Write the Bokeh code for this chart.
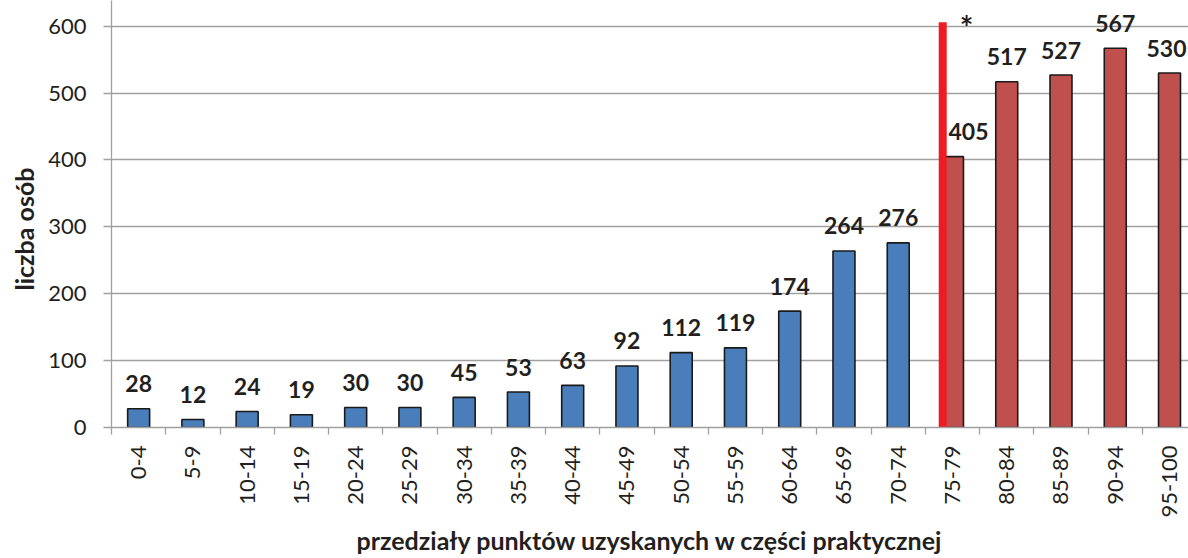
import math
from bokeh.plotting import figure
from bokeh.models import FixedTicker, Range1d, ColumnDataSource, Title
from bokeh.core.properties import value
from bokeh.embed import file_html
from bokeh.resources import INLINE

categories = ["0-4", "5-9", "10-14", "15-19", "20-24", "25-29", "30-34", "35-39",
              "40-44", "45-49", "50-54", "55-59", "60-64", "65-69", "70-74",
              "75-79", "80-84", "85-89", "90-94", "95-100"]
counts = [28, 12, 24, 19, 30, 30, 45, 53, 63, 92, 112, 119, 174, 264, 276,
          405, 517, 527, 567, 530]
threshold_category = "75-79"
y_ticks = [0, 100, 200, 300, 400, 500, 600]

FONT = "Lato"
TEXT = "#231f20"
GRAY = "#a0a0a0"
BLUE = "#4a7ebb"
RED = "#c0504d"

thr = categories.index(threshold_category)
n = len(categories)
xs = list(range(n))
colors = [BLUE if i < thr else RED for i in xs]
dx = [16 if i == thr else (-3 if i == n - 1 else 0) for i in xs]

src = ColumnDataSource(dict(x=xs, count=counts, color=colors,
                            label=[str(c) for c in counts], dx=dx))

p = figure(width=1188, height=558, x_range=Range1d(-0.5, 19.35),
           y_range=Range1d(0, 638.5), output_backend="svg", toolbar_location=None,
           min_border_left=111, min_border_right=0, min_border_top=0,
           min_border_bottom=131)
p.outline_line_color = None
p.background_fill_color = "white"
p.border_fill_color = "white"

p.vbar(x="x", top="count", width=0.405, fill_color="color",
       line_color="#1a1a1a", line_width=1.6, source=src)

p.text(x="x", y="count", text="label", x_offset="dx", y_offset=-25,
       text_align="center", text_baseline="alphabetic",
       text_font=value(FONT), text_font_style="bold", text_font_size="23px",
       text_color=TEXT, source=src)

# threshold marker between 70-74 and 75-79
mx = thr - 0.18
p.segment(x0=[mx], y0=[0], x1=[mx], y1=[606], line_width=8, line_color="#ed1c24")
p.text(x=[thr + 0.26], y=[598], text=["*"], text_align="center",
       text_baseline="alphabetic", text_font=value(FONT), text_font_style="bold",
       text_font_size="32px", text_color=TEXT)

# y axis title
p.add_layout(Title(text="liczba osób", align="left", offset=137,
                   text_font=FONT, text_font_style="bold", text_font_size="25px",
                   text_color=TEXT, standoff=13), "left")

# axes
p.xgrid.visible = False
p.ygrid.grid_line_color = GRAY
p.ygrid.grid_line_width = 1.3

xa = p.xaxis[0]
xa.ticker = FixedTicker(ticks=xs, minor_ticks=[i - 0.5 for i in range(n + 1)])
xa.major_label_overrides = {i: c for i, c in enumerate(categories)}
xa.major_label_orientation = math.pi / 2
xa.major_tick_line_color = None
xa.major_tick_out = 0
xa.major_tick_in = 0
xa.minor_tick_line_color = GRAY
xa.minor_tick_line_width = 1.3
xa.minor_tick_out = 7
xa.minor_tick_in = 0
xa.major_label_standoff = 11
xa.axis_line_color = GRAY
xa.axis_line_width = 1.3
xa.major_label_text_font = FONT
xa.major_label_text_font_size = "22px"
xa.major_label_text_color = TEXT
xa.axis_label = "przedziały punktów uzyskanych w części praktycznej"
xa.axis_label_text_font = FONT
xa.axis_label_text_font_style = "bold"
xa.axis_label_text_font_size = "25px"
xa.axis_label_text_color = TEXT
xa.axis_label_standoff = 5

ya = p.yaxis[0]
ya.ticker = FixedTicker(ticks=y_ticks, minor_ticks=[])
ya.major_tick_line_color = GRAY
ya.major_tick_line_width = 1.3
ya.major_tick_out = 8
ya.major_tick_in = 0
ya.minor_tick_line_color = None
ya.major_label_standoff = 17
ya.axis_line_color = GRAY
ya.axis_line_width = 1.3
ya.major_label_text_font = FONT
ya.major_label_text_font_size = "22px"
ya.major_label_text_color = TEXT

open("out.html", "w").write(file_html(p, INLINE))
